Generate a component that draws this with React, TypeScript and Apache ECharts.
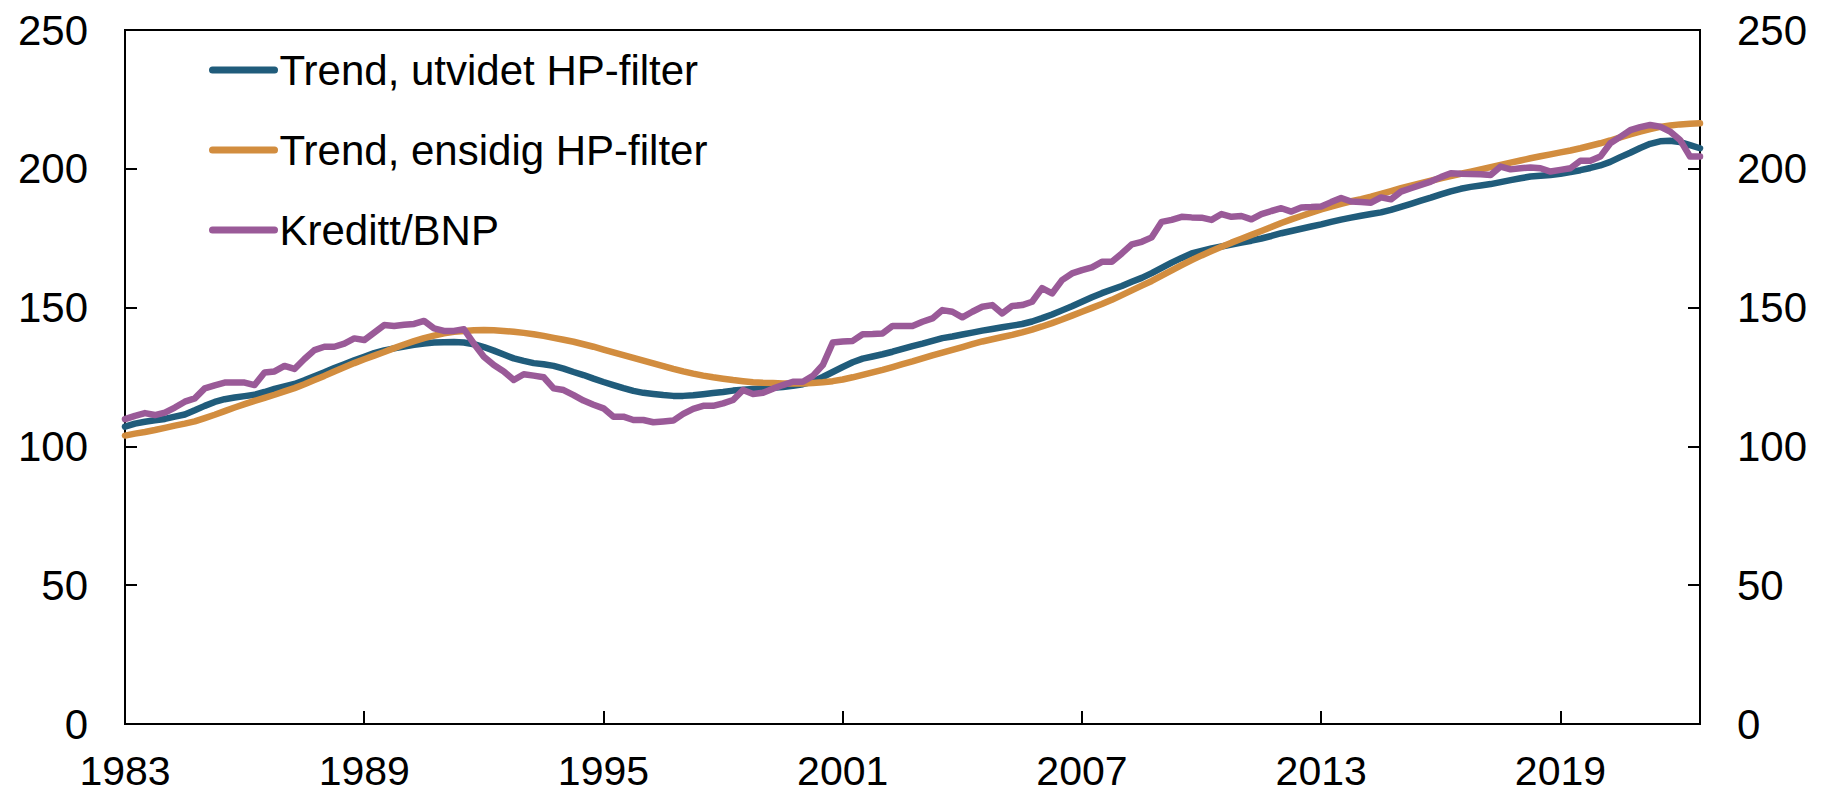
import React, { useEffect, useRef } from "react";
import * as echarts from "echarts";

const FIRST_YEAR = 1983;
const N_QUARTERS = 159; // 1983K1 - 2022K3
const categories: string[] = Array.from({ length: N_QUARTERS }, (_, i) =>
  `${FIRST_YEAR + Math.floor(i / 4)}K${(i % 4) + 1}`
);

const yTicks = [0, 50, 100, 150, 200, 250];

const trendUtvidet: number[] = [
  107.1, 108.2, 108.9, 109.4, 109.9, 110.7, 111.5, 113.0, 114.6, 116.0,
  117.0, 117.6, 118.1, 118.6, 119.6, 120.7, 121.6, 122.5, 123.8, 125.3,
  126.7, 128.2, 129.6, 131.0, 132.3, 133.6, 134.6, 135.3, 136.0, 136.6,
  137.1, 137.4, 137.5, 137.6, 137.4, 136.8, 135.8, 134.5, 133.1, 131.7,
  130.8, 130.0, 129.6, 129.0, 128.0, 126.8, 125.7, 124.4, 123.2, 122.1,
  121.0, 120.0, 119.3, 118.9, 118.5, 118.2, 118.2, 118.4, 118.8, 119.2,
  119.6, 120.1, 120.4, 120.7, 120.9, 121.1, 121.4, 121.8, 122.4, 123.3,
  125.0, 126.8, 128.6, 130.3, 131.6, 132.4, 133.2, 134.1, 135.1, 136.1,
  137.0, 138.0, 139.0, 139.6, 140.3, 141.0, 141.7, 142.3, 142.9, 143.5,
  144.1, 145.0, 146.2, 147.5, 149.0, 150.5, 152.1, 153.7, 155.2, 156.5,
  157.8, 159.3, 160.7, 162.4, 164.3, 166.2, 167.9, 169.5, 170.4, 171.3,
  172.0, 172.7, 173.4, 174.1, 174.9, 175.8, 176.8, 177.6, 178.4, 179.2,
  180.0, 180.9, 181.7, 182.4, 183.1, 183.7, 184.3, 185.2, 186.3, 187.4,
  188.5, 189.6, 190.8, 191.9, 192.8, 193.5, 194.0, 194.5, 195.2, 195.9,
  196.6, 197.2, 197.5, 197.8, 198.2, 198.8, 199.5, 200.3, 201.2, 202.5,
  204.2, 205.8, 207.5, 209.0, 209.9, 210.1, 209.6, 208.5, 207.4,
];

const trendEnsidig: number[] = [
  103.9, 104.6, 105.2, 105.9, 106.7, 107.5, 108.2, 109.0, 110.2, 111.4,
  112.7, 114.0, 115.2, 116.4, 117.5, 118.6, 119.8, 121.0, 122.4, 123.9,
  125.4, 127.0, 128.5, 130.0, 131.4, 132.7, 134.0, 135.4, 136.7, 137.9,
  139.0, 139.9, 140.7, 141.3, 141.6, 141.8, 141.9, 141.8, 141.6, 141.3,
  140.9, 140.4, 139.8, 139.1, 138.4, 137.7, 136.8, 135.9, 134.9, 133.9,
  132.9, 131.9, 130.9, 129.9, 128.9, 127.9, 127.0, 126.2, 125.5, 124.9,
  124.4, 123.9, 123.5, 123.1, 122.9, 122.8, 122.7, 122.7, 122.7, 122.8,
  123.1, 123.5, 124.1, 124.9, 125.8, 126.7, 127.6, 128.6, 129.6, 130.6,
  131.7, 132.8, 133.8, 134.8, 135.8, 136.8, 137.8, 138.6, 139.4, 140.2,
  141.1, 142.1, 143.2, 144.4, 145.7, 147.1, 148.5, 149.9, 151.3, 152.8,
  154.5, 156.2, 157.9, 159.6, 161.5, 163.4, 165.3, 167.1, 168.8, 170.4,
  171.9, 173.4, 174.8, 176.2, 177.6, 179.0, 180.5, 181.8, 183.0, 184.2,
  185.4, 186.4, 187.4, 188.3, 189.1, 190.0, 191.0, 192.0, 193.0, 193.9,
  194.8, 195.7, 196.6, 197.4, 198.2, 199.0, 199.8, 200.6, 201.4, 202.2,
  203.0, 203.8, 204.5, 205.2, 205.9, 206.6, 207.4, 208.3, 209.2, 210.2,
  211.3, 212.4, 213.4, 214.3, 215.1, 215.6, 216.0, 216.2, 216.4,
];

const kredittBnp: number[] = [
  109.8, 111.0, 112.0, 111.3, 112.2, 114.0, 116.1, 117.3, 120.9, 122.0,
  123.0, 123.0, 123.0, 122.1, 126.6, 127.0, 129.0, 127.9, 131.5, 134.7,
  135.9, 135.9, 137.0, 138.9, 138.3, 141.0, 143.7, 143.4, 143.8, 144.1,
  145.2, 142.5, 141.6, 141.6, 142.2, 137.0, 132.3, 129.3, 127.0, 123.9,
  126.0, 125.5, 124.9, 120.9, 120.3, 118.5, 116.5, 115.0, 113.7, 110.7,
  110.7, 109.5, 109.5, 108.7, 109.0, 109.3, 111.7, 113.5, 114.6, 114.6,
  115.5, 116.7, 120.3, 118.9, 119.3, 120.8, 122.1, 123.3, 123.3, 125.4,
  129.3, 137.4, 137.8, 138.0, 140.4, 140.5, 140.7, 143.4, 143.4, 143.4,
  144.9, 146.1, 149.1, 148.5, 146.5, 148.5, 150.3, 150.9, 147.9, 150.6,
  150.9, 152.1, 157.0, 155.1, 159.9, 162.3, 163.5, 164.5, 166.5, 166.5,
  169.5, 172.8, 173.7, 175.3, 180.9, 181.6, 182.7, 182.5, 182.4, 181.6,
  183.7, 182.7, 183.0, 181.8, 183.7, 184.8, 185.8, 184.6, 186.1, 186.2,
  186.4, 188.0, 189.5, 188.2, 188.0, 187.8, 189.7, 189.0, 191.8, 193.0,
  194.2, 195.4, 197.0, 198.4, 198.2, 198.1, 198.0, 197.8, 200.8, 199.8,
  200.2, 200.5, 200.2, 199.0, 199.6, 200.2, 202.9, 202.9, 204.4, 209.2,
  211.5, 213.9, 215.0, 215.8, 215.2, 213.4, 210.4, 204.4, 204.4,
];

const seriesNames = ["Trend, utvidet HP-filter", "Trend, ensidig HP-filter", "Kreditt/BNP"];
const seriesColors = ["#205c7b", "#d28d3f", "#9a5a98"];
const yearTickEvery = 24; // every 6 years (quarterly data)

const FONT = "'Liberation Sans', Arial, Helvetica, sans-serif";
const FS = 42;

export default function App() {
  const ref = useRef<HTMLDivElement>(null);

  useEffect(() => {
    if (!ref.current) return;
    const chart = echarts.init(ref.current, undefined, { renderer: "svg" });
    const labelEvery = (i: number) => i % yearTickEvery === 0;
    const yAxisBase = (position: "left" | "right") => ({
      type: "value" as const,
      position,
      min: 0,
      max: 250,
      interval: 50,
      axisLine: { show: true, lineStyle: { color: "#000", width: 2 } },
      axisTick: { show: true, inside: true, length: 12, lineStyle: { color: "#000", width: 2 } },
      axisLabel: {
        show: true,
        margin: 37,
        color: "#000",
        fontFamily: FONT,
        fontSize: FS,
        formatter: (v: number) => (yTicks.includes(v) ? String(v) : ""),
      },
      splitLine: { show: false },
    });
    const data = [trendUtvidet, trendEnsidig, kredittBnp];
    chart.setOption({
      animation: false,
      backgroundColor: "#fff",
      grid: {
        left: 125,
        right: 127,
        top: 30,
        bottom: 71,
        show: true,
        borderColor: "#000",
        borderWidth: 2,
        containLabel: false,
      },
      legend: {
        show: true,
        orient: "vertical",
        left: 204,
        top: 41,
        itemWidth: 62,
        itemHeight: 14,
        itemGap: 32,
        selectedMode: false,
        itemStyle: { opacity: 0 },
        lineStyle: { width: 7, cap: "round" },
        textStyle: { color: "#000", fontFamily: FONT, fontSize: FS, lineHeight: 48 },
        data: seriesNames,
      },
      xAxis: {
        type: "category",
        data: categories,
        boundaryGap: false,
        axisLine: { show: true, onZero: false, lineStyle: { color: "#000", width: 2 } },
        axisTick: {
          show: true,
          inside: true,
          length: 13,
          interval: (i: number) => labelEvery(i),
          lineStyle: { color: "#000", width: 2 },
        },
        axisLabel: {
          show: true,
          interval: (i: number) => labelEvery(i),
          formatter: (v: string) => v.slice(0, 4),
          margin: 32,
          lineHeight: 30,
          color: "#000",
          fontFamily: FONT,
          fontSize: 41,
          hideOverlap: false,
        },
        splitLine: { show: false },
      },
      yAxis: [yAxisBase("left"), yAxisBase("right")],
      series: data.map((d, i) => ({
        name: seriesNames[i],
        type: "line",
        data: d,
        yAxisIndex: 0,
        showSymbol: false,
        symbol: "none",
        smooth: false,
        color: seriesColors[i],
        lineStyle: { color: seriesColors[i], width: 6.5, join: "round", cap: "round" },
        itemStyle: { color: seriesColors[i] },
        emphasis: { disabled: true },
      })),
    });
    return () => chart.dispose();
  }, []);

  return (
    <div
      ref={ref}
      style={{ position: "fixed", left: 0, top: 0, width: 1827, height: 795, background: "#fff" }}
    />
  );
}
